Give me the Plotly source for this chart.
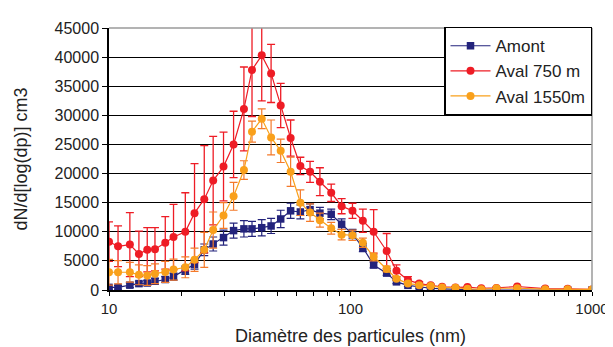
import plotly.graph_objects as go

# Particle diameters (nm)
diam = [10.0, 10.9, 12.2, 13.3, 14.4, 15.5, 17.1, 18.5, 20.7, 22.6, 24.8, 27.0, 29.8, 32.8,
        36.2, 39.1, 42.9, 46.9, 51.4, 56.5, 62.0, 68.0, 74.7, 83.2, 91.9, 101.9, 112.5, 124.7,
        141.2, 155.0, 172.9, 192.6, 214.8, 239.5, 272, 305, 348, 402, 490, 640, 793, 1000]

amont = [450, 450, 830, 1100, 1200, 1500, 1800, 2300, 3400, 4400, 6900, 7900, 9000, 10200,
         10500, 10500, 10700, 11000, 12200, 13600, 13400, 13800, 13200, 13000, 11300, 9600, 7300, 4300,
         2900, 1400, 800, 500, 300, 200, 100, 50, 0, 0, 0, 0, 0, 0]
amont_err = [300, 300, 400, 400, 400, 500, 500, 600, 700, 800, 1000, 1200, 1300, 1300,
             1400, 1300, 1400, 1300, 1500, 1300, 1200, 1000, 1000, 900, 900, 800, 700, 500,
             400, 300, 200, 200, 100, 100, 0, 0, 0, 0, 0, 0, 0, 0]

aval750 = [8300, 7500, 7800, 6200, 6900, 7000, 8100, 9100, 10000, 13200, 15600, 18800, 21200, 25000,
           31100, 37800, 40300, 37200, 31700, 26100, 21300, 20300, 18600, 16700, 14400, 13600, 11900, 10000,
           6700, 3300, 1700, 1100, 800, 550, 450, 500, 300, 350, 600, 250, 200, 100]
aval750_err = [3400, 3500, 5500, 3900, 3800, 3700, 4500, 5600, 6700, 8500, 9200, 7600, 5900, 5700,
               7200, 8000, 7800, 5000, 3800, 3100, 1500, 1800, 2400, 1500, 1300, 1300, 2000, 3800,
               3000, 1000, 600, 300, 200, 200, 100, 100, 100, 100, 100, 0, 0, 0]

aval1550 = [3050, 3050, 3050, 2600, 2500, 2800, 3100, 3500, 3900, 5200, 6900, 10300, 12800, 16100,
            20600, 27200, 29400, 26200, 23900, 20300, 15000, 13300, 12000, 10600, 9500, 9400, 8100, 5700,
            3600, 1950, 1100, 830, 670, 450, 400, 200, 150, 300, 300, 150, 150, 100]
aval1550_err = [2200, 2000, 1700, 1700, 1700, 1700, 1800, 1800, 1800, 2000, 3000, 3100, 2200, 2400,
                1600, 1800, 1700, 3000, 2000, 2500, 2200, 1500, 1200, 1000, 900, 900, 800, 700,
                500, 300, 200, 100, 100, 100, 0, 0, 0, 0, 0, 0, 0, 0]

x_tickvals = [10, 20, 30, 40, 50, 60, 70, 80, 90, 100, 200, 300, 400, 500, 600, 700, 800, 900, 1000]
x_ticktext = ["10", "", "", "", "", "", "", "", "", "100", "", "", "", "", "", "", "", "", "1000"]

BLUE = "#23237c"
RED = "#ee1c25"
ORANGE = "#f9a01b"
ORANGE_ERR = "#f47a2a"

fig = go.Figure()
fig.add_trace(go.Scatter(
    x=diam, y=amont, name="Amont", mode="lines+markers",
    line=dict(color=BLUE, width=1.2),
    marker=dict(symbol="square", size=7.5, color=BLUE),
    error_y=dict(type="data", array=amont_err, color=BLUE, thickness=1.2, width=4),
))
fig.add_trace(go.Scatter(
    x=diam, y=aval750, name="Aval 750 m", mode="lines+markers",
    line=dict(color=RED, width=1.2),
    marker=dict(symbol="circle", size=8, color=RED),
    error_y=dict(type="data", array=aval750_err, color=RED, thickness=1.3, width=4),
))
fig.add_trace(go.Scatter(
    x=diam, y=aval1550, name="Aval 1550m", mode="lines+markers",
    line=dict(color=ORANGE, width=1.2),
    marker=dict(symbol="circle", size=8, color=ORANGE),
    error_y=dict(type="data", array=aval1550_err, color=ORANGE_ERR, thickness=1.2, width=4),
))

fig.update_layout(
    width=613, height=347,
    margin=dict(l=99, r=19, t=13, b=64),
    paper_bgcolor="white", plot_bgcolor="white",
    font=dict(family="Liberation Sans, Arial, sans-serif", color="#222222", size=15),
    showlegend=True,
    legend=dict(x=1, xanchor="right", y=1.005, yanchor="top",
                bordercolor="black", borderwidth=1.5, bgcolor="white",
                font=dict(size=17, color="#222222"), itemwidth=40),
    xaxis=dict(type="log", range=[1, 3], tickvals=x_tickvals, ticktext=x_ticktext,
               ticks="outside", ticklen=4, tickcolor="black", showgrid=False,
               showline=True, linecolor="black", linewidth=1.5, zeroline=False,
               tickfont=dict(size=15),
               title=dict(text="Diamètre des particules (nm)", font=dict(size=18), standoff=14)),
    yaxis=dict(range=[0, 45000], dtick=5000, tickformat="d",
               ticks="outside", ticklen=5, tickcolor="black",
               showgrid=True, gridcolor="black", gridwidth=1,
               showline=True, linecolor="black", linewidth=1.5, zeroline=False,
               tickfont=dict(size=16),
               title=dict(text="dN/d[log(dp)] cm3", font=dict(size=18), standoff=22)),
    shapes=[
        dict(type="line", xref="paper", yref="paper", x0=0, x1=1, y0=1, y1=1,
             line=dict(color="#9a9a9a", width=1.5)),
        dict(type="line", xref="paper", yref="paper", x0=1, x1=1, y0=0, y1=1,
             line=dict(color="#9a9a9a", width=1.5)),
    ],
)

fig.write_html("out.html")
